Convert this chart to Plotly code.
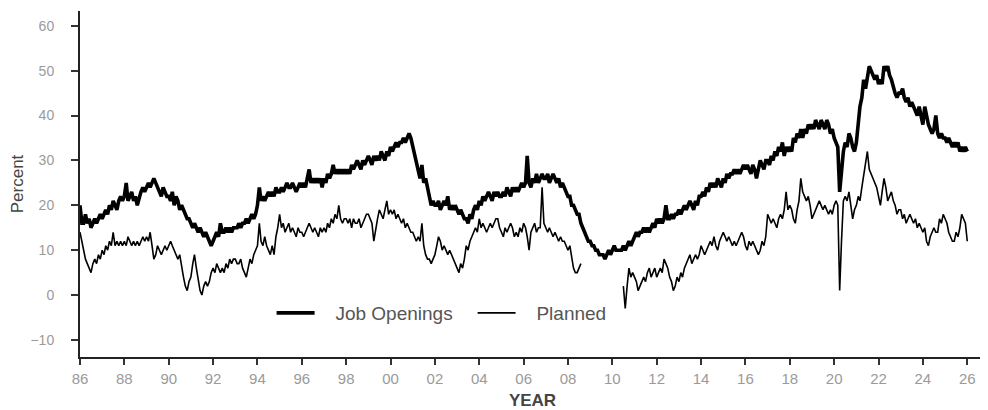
import pandas as pd
import plotly.graph_objects as go

# Monthly data, first month = January 1986
start_month = "1986-01-01"

# Percent of owners with job openings they could not fill (monthly, Jan 1986 - Jan 2026)
job_openings = [
    20, 16, 16, 18, 16, 17, 15, 16, 17, 16, 17, 18,   # 1986
    17, 18, 19, 18, 20, 19, 21, 20, 19, 21, 22, 21,   # 1987
    22, 25, 21, 22, 23, 21, 22, 20, 22, 23, 24, 23,   # 1988
    24, 25, 24, 25, 26, 25, 24, 23, 22, 24, 23, 22,   # 1989
    22, 21, 23, 20, 22, 21, 19, 20, 19, 18, 17, 17,   # 1990
    16, 15, 16, 15, 14, 15, 14, 13, 14, 13, 12, 11,   # 1991
    12, 13, 14, 13, 16, 14, 14, 15, 14, 15, 14, 15,   # 1992
    15, 15, 16, 15, 16, 16, 17, 16, 17, 18, 17, 18,   # 1993
    20, 24, 21, 22, 21, 22, 23, 22, 23, 22, 24, 23,   # 1994
    23, 24, 23, 24, 25, 24, 24, 25, 24, 23, 24, 25,   # 1995
    24, 25, 24, 26, 28, 25, 26, 25, 26, 25, 26, 24,   # 1996
    26, 25, 27, 26, 27, 29, 27, 28, 27, 28, 27, 28,   # 1997
    27, 28, 27, 29, 28, 29, 30, 29, 28, 30, 29, 30,   # 1998
    31, 30, 29, 31, 30, 31, 30, 32, 31, 30, 32, 31,   # 1999
    33, 32, 33, 34, 33, 34, 34, 35, 34, 35, 36, 35,   # 2000
    33, 31, 29, 27, 26, 29, 25, 26, 24, 22, 20, 21,   # 2001
    20, 20, 21, 19, 20, 21, 20, 22, 19, 20, 19, 20,   # 2002
    19, 18, 19, 18, 17, 17, 16, 18, 17, 19, 20, 19,   # 2003
    21, 20, 22, 21, 22, 23, 22, 21, 23, 22, 23, 22,   # 2004
    22, 23, 22, 24, 23, 22, 24, 23, 24, 23, 24, 25,   # 2005
    24, 25, 31, 25, 24, 26, 25, 27, 25, 26, 27, 26,   # 2006
    26, 27, 25, 26, 27, 26, 25, 26, 24, 25, 24, 23,   # 2007
    22, 22, 20, 20, 19, 18, 18, 16, 15, 14, 13, 12,   # 2008
    12, 11, 11, 10, 10, 9, 9, 9, 8, 9, 10, 9,         # 2009
    10, 11, 10, 10, 10, 10, 11, 10, 11, 12, 11, 12,   # 2010
    13, 14, 13, 14, 14, 15, 14, 15, 14, 15, 16, 15,   # 2011
    17, 16, 17, 16, 17, 20, 17, 17, 18, 17, 18, 18,   # 2012
    19, 18, 19, 20, 19, 20, 21, 20, 19, 21, 20, 22,   # 2013
    22, 23, 22, 24, 23, 25, 24, 25, 24, 26, 25, 24,   # 2014
    26, 25, 27, 26, 27, 27, 28, 27, 28, 27, 28, 29,   # 2015
    28, 29, 28, 27, 29, 28, 26, 28, 30, 29, 28, 30,   # 2016
    30, 29, 31, 30, 32, 31, 33, 32, 34, 31, 33, 32,   # 2017
    33, 32, 35, 34, 36, 35, 37, 35, 37, 36, 38, 37,   # 2018
    38, 37, 39, 38, 37, 39, 38, 37, 39, 38, 36, 37,   # 2019
    35, 34, 33, 23, 28, 32, 34, 33, 36, 35, 33, 32,   # 2020
    34, 38, 42, 44, 48, 46, 49, 51, 50, 49, 48, 49,   # 2021
    47, 48, 47, 51, 50, 51, 49, 48, 46, 45, 44, 45,   # 2022
    45, 46, 44, 43, 44, 42, 43, 42, 41, 40, 42, 40,   # 2023
    38, 42, 40, 38, 37, 36, 37, 40, 36, 35, 36, 35,   # 2024
    35, 34, 35, 34, 33, 34, 33, 34, 32, 33, 32, 33,   # 2025
    32,                                               # 2026
]

# Net percent planning to increase employment (gap Sep 2008 - Jun 2010)
N = None
hiring_plans = [
    14, 12, 10, 8, 7, 6, 5, 7, 8, 7, 9, 8,            # 1986
    10, 9, 11, 10, 12, 11, 14, 11, 12, 11, 12, 11,    # 1987
    12, 11, 13, 12, 11, 12, 11, 12, 11, 12, 13, 12,   # 1988
    13, 12, 14, 11, 8, 9, 11, 10, 9, 10, 11, 10,      # 1989
    11, 12, 11, 10, 9, 8, 9, 6, 4, 2, 1, 3,           # 1990
    4, 7, 9, 6, 3, 1, 0, 2, 3, 2, 3, 5,               # 1991
    6, 5, 7, 6, 5, 6, 5, 7, 6, 8, 7, 8,               # 1992
    8, 7, 7, 8, 6, 5, 4, 6, 8, 7, 9, 10,              # 1993
    11, 16, 12, 11, 13, 11, 10, 9, 11, 9, 13, 15,     # 1994
    18, 15, 16, 14, 15, 16, 14, 15, 14, 13, 15, 14,   # 1995
    14, 13, 14, 15, 16, 15, 14, 15, 14, 13, 15, 14,   # 1996
    15, 14, 16, 15, 17, 16, 18, 17, 20, 17, 16, 17,   # 1997
    17, 16, 17, 15, 17, 16, 16, 17, 15, 16, 17, 18,   # 1998
    18, 17, 16, 12, 15, 17, 19, 18, 17, 19, 21, 18,   # 1999
    19, 18, 19, 17, 18, 17, 16, 17, 15, 16, 15, 14,   # 2000
    14, 13, 12, 13, 12, 16, 11, 9, 8, 8, 7, 8,        # 2001
    9, 11, 13, 12, 10, 11, 10, 9, 10, 9, 8, 7,        # 2002
    6, 5, 7, 6, 8, 11, 10, 12, 13, 14, 15, 14,        # 2003
    17, 15, 16, 15, 14, 15, 16, 15, 16, 17, 17, 15,   # 2004
    14, 13, 15, 14, 15, 16, 15, 13, 14, 13, 15, 14,   # 2005
    16, 15, 13, 10, 14, 15, 16, 14, 15, 15, 24, 16,   # 2006
    15, 14, 15, 14, 13, 14, 13, 12, 13, 12, 12, 11,   # 2007
    10, 11, 8, 6, 5, 5, 6, 7, N, N, N, N,             # 2008
    N, N, N, N, N, N, N, N, N, N, N, N,               # 2009
    N, N, N, N, N, N, 2, -3, 2, 6, 4, 5,              # 2010
    4, 3, 1, 2, 3, 4, 3, 5, 6, 4, 5, 6,               # 2011
    4, 5, 6, 5, 8, 7, 6, 4, 3, 1, 2, 4,               # 2012
    3, 5, 4, 6, 7, 8, 9, 7, 8, 9, 8, 9,               # 2013
    11, 10, 9, 10, 11, 12, 11, 13, 11, 10, 12, 13,    # 2014
    14, 13, 12, 13, 12, 11, 12, 11, 12, 13, 14, 13,   # 2015
    11, 10, 12, 11, 12, 11, 10, 9, 10, 12, 11, 13,    # 2016
    18, 17, 16, 17, 16, 15, 17, 18, 17, 19, 23, 19,   # 2017
    20, 19, 17, 16, 19, 21, 26, 23, 22, 21, 22, 20,   # 2018
    17, 18, 19, 20, 21, 20, 19, 20, 19, 18, 19, 18,   # 2019
    20, 21, 20, 1, 12, 21, 22, 21, 23, 20, 17, 19,    # 2020
    20, 22, 21, 24, 27, 29, 32, 28, 27, 26, 25, 24,   # 2021
    22, 20, 23, 26, 24, 21, 22, 23, 21, 20, 18, 19,   # 2022
    19, 17, 18, 16, 17, 18, 17, 16, 17, 15, 16, 15,   # 2023
    14, 15, 12, 11, 13, 14, 15, 14, 14, 17, 16, 18,   # 2024
    17, 16, 14, 13, 12, 12, 14, 13, 15, 18, 17, 16,   # 2025
    12,                                               # 2026
]

series_names = ["Job Openings", "Planned"]

dates = pd.date_range(start_month, periods=len(job_openings), freq="MS")

y_ticks = [-10, 0, 10, 20, 30, 40, 50, 60]

FONT = "Liberation Sans, Arial, Helvetica, sans-serif"
GAP = "\u00a0\u00a0\u00a0"  # visual gap between legend line and legend text

fig = go.Figure()
fig.add_trace(go.Scatter(
    x=dates, y=job_openings, mode="lines", name=GAP + series_names[0],
    line=dict(color="black", width=3.6),
))
fig.add_trace(go.Scatter(
    x=dates, y=hiring_plans, mode="lines", name=GAP + series_names[1],
    line=dict(color="black", width=1.6), connectgaps=False,
))

fig.update_layout(
    width=980, height=402,
    margin=dict(l=66, r=3, t=3, b=52),
    paper_bgcolor="white", plot_bgcolor="white",
    font=dict(family=FONT, size=14, color="#333"),
    showlegend=True,
    legend=dict(
        orientation="h", x=0.2117, xanchor="left", y=0.127, yanchor="middle",
        bgcolor="rgba(0,0,0,0)", font=dict(family=FONT, size=19, color="#555"),
        itemwidth=38, entrywidth=148,
    ),
)
fig.update_xaxes(
    type="date",
    range=["1986-01-01", "2026-10-20"],
    tick0="1986-01-01", dtick="M24", tickformat="%y",
    ticks="outside", ticklen=6, tickwidth=2, tickcolor="#333",
    showline=True, linecolor="#222", linewidth=2,
    showgrid=False, zeroline=False,
    tickfont=dict(family=FONT, size=15, color="#9a9a9a"),
    ticklabelstandoff=1,
    title=dict(text="<b>YEAR</b>", font=dict(family=FONT, size=17, color="#444"), standoff=8),
)
fig.update_yaxes(
    range=[-13.8, 63.3],
    tickvals=y_ticks,
    ticks="outside", ticklen=7, tickwidth=2, tickcolor="#333",
    showline=True, linecolor="#222", linewidth=2,
    showgrid=False, zeroline=False,
    tickfont=dict(family=FONT, size=14, color="#9a9a9a"),
    ticklabelstandoff=14,
    title=dict(text="Percent", font=dict(family=FONT, size=17, color="#444"), standoff=8),
)

fig.write_html("out.html")
